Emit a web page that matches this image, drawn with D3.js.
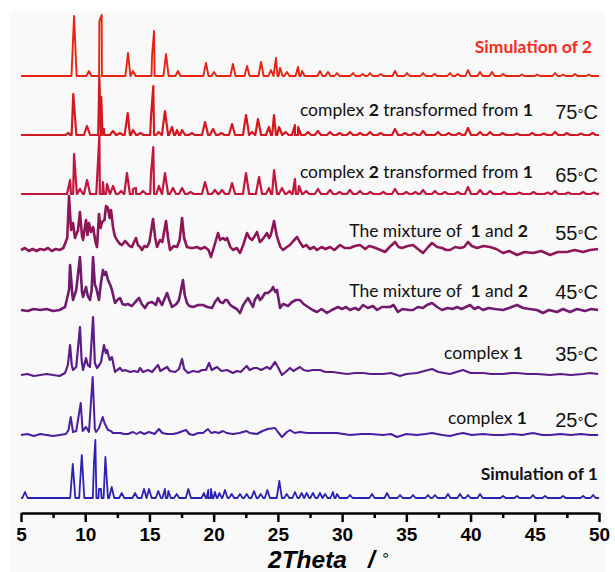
<!DOCTYPE html>
<html>
<head>
<meta charset="utf-8">
<script src="https://cdn.jsdelivr.net/npm/d3@7"></script>
<style>
  body { margin: 0; background: #fff; }
  svg { display: block; }
</style>
</head>
<body>
<div id="chart"></div>
<script>
var svgWidth = 615;
var svgHeight = 572;

// sharp patterns: peak lists [2theta, height]
var sim2Peaks = [[9.13,60],[10.29,5],[11.10,55],[11.28,61],[13.33,23],[13.72,5],[15.20,20],[15.36,45],[16.29,22],[17.22,5],
  [19.40,13],[20.03,4],[21.50,12],[22.60,10],[23.69,14],[24.46,6],[24.85,18],[25.17,8],[25.70,4],[26.57,9],[26.88,5],
  [28.28,5],[28.90,4],[29.6,3],[30.85,3],[31.6,2],[32.17,3],[33.0,2],[34.12,5],[35.05,3],[36.30,3],[37.2,2],[38.40,3],
  [39.0,2],[39.80,6],[40.74,4],[41.67,4],[42.53,2],[44.0,1.5],[45.2,1.5],[46.58,3],[47.2,1.5],[48.13,2],[49.2,1.5]];

var t75Peaks = [[8.7,2],[9.07,41],[10.14,9],[11.10,59],[11.25,38],[11.46,6],[12.16,4],[12.7,2],[13.31,22],[13.72,5],[14.3,2],
  [15.12,18],[15.30,49],[15.7,3],[16.21,24],[16.76,8],[17.15,5],[17.54,5],[18.3,2],[19.33,13],[19.95,6],[20.6,2],[21.43,11],
  [22.52,20],[23.0,3],[23.45,16],[24.31,8],[24.70,20],[25.09,8],[25.6,3],[26.33,10],[26.57,8],[27.35,3],[28.12,4],[29.06,3],
  [29.8,2],[30.61,3],[31.4,2],[32.17,3],[33.0,2],[34.12,6],[34.9,2],[35.6,2],[36.30,4],[37.47,3],[38.3,2],[39.1,2],[39.80,7],
  [40.74,3],[41.52,3],[42.5,2],[43.6,1.5],[44.8,2],[45.7,1.5],[46.58,3],[47.5,2],[48.6,1.5],[49.5,2]];

var t65Peaks = [[8.82,14],[9.13,40],[9.59,5],[10.14,14],[11.10,58],[11.38,12],[11.70,10],[12.16,8],[12.8,3],[13.25,21],
  [13.72,5],[13.95,6],[14.5,3],[15.12,20],[15.30,47],[15.74,8],[16.21,21],[16.83,6],[17.54,6],[18.2,2],[19.33,12],[20.10,4],
  [20.65,4],[21.43,11],[22.52,21],[23.53,17],[24.31,6],[24.70,24],[25.32,6],[25.9,3],[26.33,15],[26.64,8],[27.2,3],[28.12,5],
  [29.06,4],[29.8,2],[30.61,4],[31.39,3],[32.2,2],[33.2,2],[34.12,5],[35.0,2],[35.7,2],[36.30,4],[37.23,3],[38.0,2],[39.0,2],
  [39.80,7],[40.74,4],[41.52,3],[42.6,2],[43.8,1.5],[44.9,2],[46.0,1.5],[46.58,3],[47.6,1.5],[48.76,2],[49.6,1.5]];

var sim1Peaks = [[5.31,6],[9.03,34],[9.73,43],[10.68,35],[10.79,58],[11.07,9],[11.23,9],[11.57,41],[12.06,11],[12.84,5],
  [13.88,5],[14.58,9],[14.97,9],[15.69,7],[16.21,9],[16.47,7],[17.12,4],[18.03,9],[19.25,5],[19.58,8],[19.79,9],[20.10,6],
  [20.44,5],[20.88,8],[21.40,4],[22.05,4],[22.57,4],[23.14,7],[23.66,4],[24.18,8],[25.11,17],[25.69,4],[26.33,6],[26.85,5],
  [27.24,5],[27.73,5],[28.28,5],[28.67,4],[29.29,6],[29.60,4],[30.61,3],[32.33,4],[33.50,5],[34.51,3],[35.52,3],[36.69,3],
  [37.23,3],[38.24,4],[39.18,4],[39.80,3],[40.74,4],[42.53,2],[43.62,2],[44.86,3],[45.80,2],[47.20,2],[48.76,2],[49.54,3]];

// broad / noisy patterns: traced points [2theta, intensity]
var t55Points = [[5.0,0],[5.3,2],[5.6,-1],[5.9,1],[6.2,-1],[6.5,1],[6.8,0],[7.1,2],[7.4,-1],[7.7,1],[8.0,0],[8.3,2],[8.6,12],
  [8.74,54],[8.9,20],[9.05,27],[9.2,12],[9.44,20],[9.59,38],[9.75,14],[9.83,10],[10.06,30],[10.18,15],[10.29,27],[10.45,18],
  [10.61,23],[10.8,8],[10.92,3],[11.07,36],[11.2,22],[11.31,28],[11.5,30],[11.62,44],[11.77,42],[11.9,32],[12.01,40],
  [12.16,23],[12.3,14],[12.47,10],[12.7,6],[12.86,5],[13.1,9],[13.25,7],[13.45,4],[13.64,3],[13.8,8],[13.95,12],[14.1,5],
  [14.27,3],[14.42,0],[14.6,4],[14.81,3],[15.0,8],[15.28,31],[15.45,12],[15.59,3],[15.82,10],[16.0,8],[16.29,29],[16.45,12],
  [16.6,0],[16.9,4],[17.15,3],[17.35,10],[17.54,32],[17.7,12],[17.92,3],[18.2,2],[18.39,2],[18.7,3],[19.0,1],[19.3,3],
  [19.6,0],[19.79,-7],[20.0,2],[20.34,17],[20.5,10],[20.73,12],[20.9,10],[21.04,12],[21.3,3],[21.51,0],[21.8,2],[22.05,-3],
  [22.3,5],[22.6,17],[22.8,12],[22.99,10],[23.2,14],[23.37,18],[23.6,8],[23.76,10],[24.0,14],[24.15,17],[24.31,12],
  [24.45,15],[24.7,29],[24.9,15],[25.01,10],[25.2,3],[25.4,0],[25.7,3],[25.94,5],[26.2,9],[26.49,13],[26.7,8],[26.96,3],
  [27.2,5],[27.5,1],[27.8,3],[28.05,0],[28.4,3],[28.7,1],[29.06,3],[29.4,0],[29.84,5],[30.2,2],[30.61,2],[31.0,4],[31.39,5],
  [31.8,1],[32.1,4],[32.41,3],[32.8,1],[33.34,-2],[33.7,3],[34.12,8],[34.4,3],[34.66,2],[35.1,4],[35.52,5],[35.9,1],
  [36.3,-3],[36.7,3],[37.0,7],[37.4,3],[37.78,2],[38.1,0],[38.4,0],[38.8,3],[39.18,2],[39.5,3],[39.8,8],[40.1,4],[40.5,2],
  [41.0,4],[41.52,3],[42.0,1],[42.53,-3],[43.0,-1],[43.62,-5],[44.2,-2],[44.86,-3],[45.5,-1],[46.19,-5],[46.8,-2],
  [47.51,-2],[48.1,0],[48.76,-2],[49.3,0],[49.93,1]];

var t45Points = [[5,0],[5.5,-1],[6,1],[6.5,0],[7,1],[7.5,-1],[8,0],[8.43,3],[8.74,20],[8.82,45],[9.0,15],[9.05,10],[9.3,20],
  [9.59,53],[9.75,18],[9.83,13],[10.06,23],[10.2,14],[10.37,10],[10.5,20],[10.61,53],[10.75,25],[10.84,23],[11.07,10],
  [11.2,25],[11.38,40],[11.5,35],[11.62,38],[11.77,30],[11.95,25],[12.08,20],[12.32,7],[12.5,10],[12.71,12],[12.9,6],
  [13.1,5],[13.3,6],[13.64,4],[13.9,8],[14.19,12],[14.4,6],[14.65,2],[14.9,7],[15.2,8],[15.5,5],[15.67,12],[15.8,9],
  [15.98,5],[16.2,12],[16.37,17],[16.55,10],[16.76,3],[17.1,6],[17.3,10],[17.61,30],[17.75,15],[17.92,7],[18.1,4],
  [18.39,3],[18.8,5],[19.17,5],[19.5,3],[19.87,2],[20.1,8],[20.34,12],[20.5,8],[20.73,7],[20.9,10],[21.04,10],[21.3,5],
  [21.51,3],[21.8,1],[22.05,-3],[22.3,5],[22.67,12],[22.85,8],[23.06,3],[23.2,10],[23.45,15],[23.6,10],[23.76,12],[24.0,17],
  [24.23,17],[24.5,20],[24.62,23],[24.8,18],[24.93,20],[25.17,2],[25.4,6],[25.79,4],[26.1,8],[26.4,10],[26.72,10],[27.0,6],
  [27.35,3],[27.7,0],[28.05,-2],[28.4,1],[28.82,-3],[29.2,0],[29.68,3],[30.0,1],[30.3,3],[30.61,0],[31.0,2],[31.3,0],
  [31.63,5],[32.0,2],[32.4,4],[32.72,0],[33.1,3],[33.73,3],[34.0,5],[34.35,-2],[34.7,1],[35.2,0],[35.52,0],[35.9,3],
  [36.3,2],[36.6,5],[37.0,7],[37.4,3],[37.78,0],[38.2,2],[38.6,1],[38.95,3],[39.3,1],[39.96,5],[40.3,1],[40.6,3],[40.97,0],
  [41.4,2],[41.9,1],[42.53,0],[43.0,2],[43.62,5],[44.1,2],[44.6,1],[45.17,0],[45.64,-3],[46.1,0],[46.73,-2],[47.2,1],
  [47.74,-2],[48.3,1],[48.9,-1],[49.4,1],[49.93,0]];

var t35Points = [[5,0],[5.5,1],[6,-1],[6.5,0],[7,1],[7.5,0],[8,-1],[8.43,2],[8.65,10],[8.82,30],[8.95,10],[9.05,5],[9.3,8],
  [9.59,48],[9.72,15],[9.83,5],[10.06,17],[10.2,10],[10.37,8],[10.61,58],[10.75,12],[10.92,7],[11.1,10],[11.23,13],
  [11.46,30],[11.6,22],[11.7,25],[11.9,15],[12.08,18],[12.32,3],[12.5,5],[12.71,7],[12.9,4],[13.1,5],[13.5,3],[13.8,4],
  [14.1,3],[14.27,7],[14.5,3],[14.89,5],[15.2,3],[15.67,10],[15.85,4],[16.1,6],[16.37,8],[16.6,4],[17.0,3],[17.3,6],
  [17.54,16],[17.7,6],[18.0,2],[18.39,4],[18.8,3],[19.09,5],[19.4,5],[19.64,12],[19.85,5],[20.26,8],[20.6,4],[21.04,5],
  [21.51,2],[21.8,4],[22.1,3],[22.57,9],[22.8,5],[23.14,7],[23.37,7],[23.7,5],[24.15,8],[24.4,6],[24.78,13],[25.0,8],
  [25.32,0],[25.6,3],[25.94,7],[26.2,4],[26.72,8],[27.0,5],[27.35,4],[27.7,5],[28.28,5],[28.7,3],[29.29,3],[29.8,2],
  [30.38,1],[31.0,2],[31.63,2],[32.2,1],[33.18,1],[33.8,2],[34.51,-1],[35.0,1],[35.83,2],[36.4,4],[37.0,6],[37.5,3],
  [38.4,1],[38.9,3],[39.41,5],[40.0,2],[40.97,2],[41.6,1],[42.53,1],[43.2,2],[43.62,2],[44.4,1],[45.2,1],[46.19,0],
  [47.0,1],[47.8,0],[48.76,1],[49.3,2],[49.93,1]];

var t25Points = [[5,0],[5.5,1],[6,-1],[6.5,1],[7,0],[7.5,-1],[8,0],[8.5,1],[8.7,5],[8.87,18],[9.05,3],[9.3,4],[9.65,32],
  [9.8,4],[10.06,8],[10.29,3],[10.58,58],[10.75,6],[10.84,3],[11.07,7],[11.36,18],[11.5,12],[11.77,5],[12.0,4],[12.16,2],
  [12.76,2],[13.0,1],[13.33,1],[13.72,3],[14.0,1],[14.27,3],[14.6,1],[14.97,3],[15.4,1],[15.74,6],[16.0,2],[16.37,1],
  [16.83,1],[17.2,2],[17.61,4],[17.85,5],[18.1,1],[18.39,0],[18.8,2],[19.17,2],[19.56,6],[19.8,2],[20.1,3],[20.4,2],
  [20.73,4],[21.0,2],[21.51,1],[22.0,2],[22.57,4],[22.8,2],[23.37,1],[23.8,4],[24.2,6],[24.78,7],[25.0,3],[25.32,-2],
  [25.7,3],[25.94,5],[26.3,2],[26.72,3],[27.3,2],[28.05,2],[28.8,2],[29.6,2],[30.61,0],[31.5,1],[32.2,1],[33.18,0],
  [33.8,1],[34.27,-2],[35.0,1],[35.83,0],[36.5,1],[37.0,2],[37.8,0],[38.4,-1],[39.0,1],[39.41,2],[40.1,0],[40.97,1],
  [41.8,0],[42.53,0],[43.3,1],[44.0,0],[44.86,2],[45.6,0],[46.19,0],[47.0,1],[47.8,0],[48.6,1],[49.3,0],[49.93,0]];

// x axis ticks
var majorTicks = [5, 10, 15, 20, 25, 30, 35, 40, 45, 50];
var minorTicks = [7.5, 12.5, 17.5, 22.5, 27.5, 32.5, 37.5, 42.5, 47.5];

// annotation text, bottom to top (bold parts flagged)
var descLabels = [
  [["Simulation of 1", true]],
  [["complex ", false], ["1", true]],
  [["complex ", false], ["1", true]],
  [["The mixture of  ", false], ["1", true], [" and ", false], ["2", true]],
  [["The mixture of  ", false], ["1", true], [" and ", false], ["2", true]],
  [["complex ", false], ["2", true], [" transformed from ", false], ["1", true]],
  [["complex ", false], ["2", true], [" transformed from ", false], ["1", true]],
  [["Simulation of 2", true]]
];
var tempValues = [null, "25", "35", "45", "55", "65", "75", null];

// turn a peak list into line vertices on a flat baseline
function peakLine(peaks, w) {
  var pts = [[5, 0]];
  peaks.forEach(function(p) {
    pts.push([p[0] - w, 0], [p[0], p[1]], [p[0] + w, 0]);
  });
  pts.push([50, 0]);
  return pts.sort(function(a, b) { return a[0] - b[0]; });
}

var series = [
  peakLine(sim1Peaks, 0.2),
  t25Points,
  t35Points,
  t45Points,
  t55Points,
  peakLine(t65Peaks, 0.24),
  peakLine(t75Peaks, 0.24),
  peakLine(sim2Peaks, 0.2)
];
var offsets = [15, 78, 138, 203, 263, 319, 378, 437];
var colors = ["#2b22b3", "#4a1ea0", "#5c1b87", "#711a6f", "#8f1656", "#c2163c", "#d3191f", "#e9230f"];
var widths = [1.8, 2, 2.2, 2.6, 2.6, 2.2, 2.2, 1.9];

// label layout
var descX = [598, 527, 523, 528, 528, 533, 533, 592];
var descY = [480, 424, 359, 297, 237, 178, 116, 53];
var tempY = [0, 427, 361, 299, 240, 182, 119, 0];

var svg = d3.select("#chart")
  .append("svg")
  .attr("width", svgWidth)
  .attr("height", svgHeight);

// light panel behind the figure
svg.append("rect")
  .attr("x", 10).attr("y", 12)
  .attr("width", 595).attr("height", 560)
  .attr("fill", "#f9f9f9");

var x = d3.scaleLinear().domain([5, 50]).range([21, 599]);
var y = d3.scaleLinear().domain([0, 500]).range([513, 13]);

series.forEach(function(s, i) {
  svg.append("path")
    .datum(s)
    .attr("fill", "none")
    .attr("stroke", colors[i])
    .attr("stroke-width", widths[i])
    .attr("stroke-linejoin", "round")
    .attr("d", d3.line()
      .x(d => x(d[0]))
      .y(d => y(d[1] + offsets[i])));
});

// descriptions
descLabels.forEach(function(segs, i) {
  var t = svg.append("text")
    .attr("x", descX[i])
    .attr("y", descY[i])
    .attr("text-anchor", "end")
    .style("white-space", "pre")
    .attr("font-family", "Lato, 'Open Sans', sans-serif")
    .attr("font-size", 17.5)
    .attr("fill", i === 7 ? "#ff2a1a" : "#111");
  segs.forEach(function(seg) {
    t.append("tspan")
      .attr("font-weight", seg[1] ? "bold" : "normal")
      .text(seg[0]);
  });
});

// temperatures: number, small ring at mid height, C
tempValues.forEach(function(v, i) {
  if (!v) return;
  var t = svg.append("text")
    .attr("x", 598)
    .attr("y", tempY[i])
    .attr("text-anchor", "end")
    .attr("font-family", "'Liberation Sans', Arial, sans-serif")
    .attr("font-size", 20)
    .attr("fill", "#111");
  t.append("tspan").text(v);
  t.append("tspan")
    .attr("font-family", "'DejaVu Sans', sans-serif")
    .attr("font-size", 13)
    .attr("dx", -1)
    .attr("dy", -4)
    .text("\u2218");
  t.append("tspan").attr("dx", -1).attr("dy", 4).text("C");
});

// x axis
var axisG = svg.append("g")
  .attr("transform", "translate(0,513)");

axisG.call(d3.axisBottom(x)
  .tickValues(majorTicks)
  .tickFormat(d3.format("d"))
  .tickSize(9)
  .tickSizeOuter(0)
  .tickPadding(6));

axisG.append("g").call(d3.axisBottom(x)
  .tickValues(minorTicks)
  .tickFormat("")
  .tickSize(5)
  .tickSizeOuter(0))
  .select(".domain").remove();

axisG.selectAll("path, line")
  .attr("stroke", "#000")
  .attr("stroke-width", 2.5);

axisG.selectAll("text")
  .attr("font-family", "'Liberation Sans', Arial, sans-serif")
  .attr("font-weight", "bold")
  .attr("font-size", 19)
  .attr("fill", "#000");

// axis title
var title = svg.append("text")
  .attr("x", 268)
  .attr("y", 567.8)
  .attr("font-family", "'Liberation Sans', Arial, sans-serif")
  .attr("font-size", 24.5)
  .attr("font-weight", "bold")
  .attr("font-style", "italic")
  .attr("fill", "#000");
title.append("tspan").text("2Theta");
title.append("tspan").attr("x", 368).text("/");
title.append("tspan")
  .attr("x", 381)
  .attr("dy", -8)
  .attr("font-family", "'DejaVu Sans', sans-serif")
  .attr("font-size", 15)
  .attr("font-weight", "normal")
  .attr("font-style", "normal")
  .text("\u2218");
</script>
</body>
</html>
